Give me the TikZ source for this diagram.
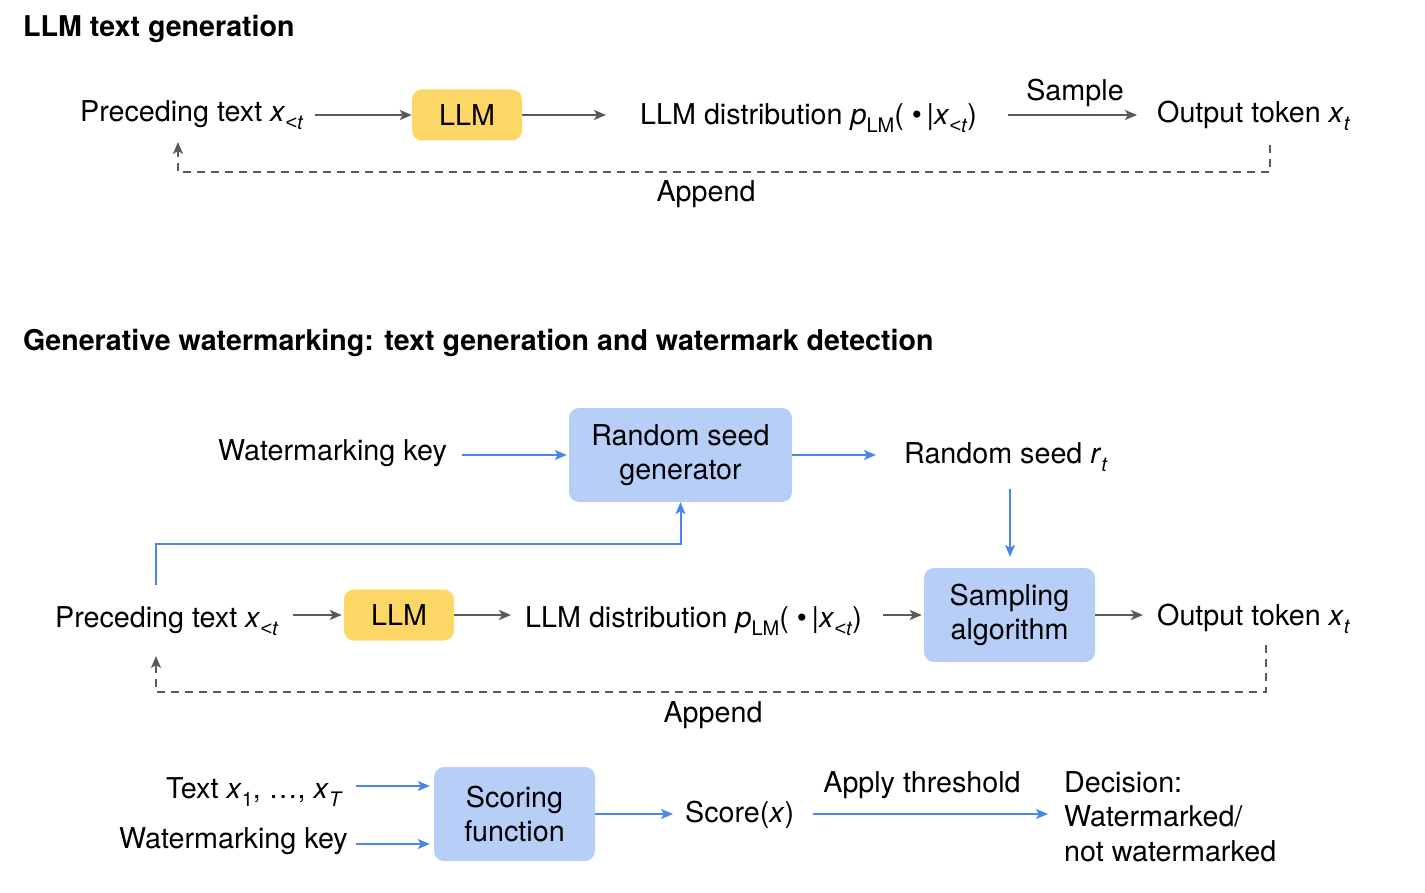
\documentclass[tikz,border=0pt]{standalone}
\usepackage{fontspec}
\setmainfont{TeX Gyre Heros}
\newfontfamily\lessfont{Liberation Sans}
\usetikzlibrary{arrows.meta,calc}
\definecolor{gline}{HTML}{5A5A5A}
\definecolor{bline}{HTML}{4A86E8}
\definecolor{bfill}{HTML}{B7CFF7}
\definecolor{yfill}{HTML}{FDD766}
\newcommand{\sbs}[1]{\raisebox{-8pt}{\fontsize{20}{20}\selectfont #1}}
\newcommand{\lt}{{\lessfont\itshape <}}
\begin{document}
\begin{tikzpicture}[x=1pt,y=-1pt,
  every node/.style={font=\fontsize{28.7}{34}\selectfont, inner sep=0pt, text=black},
  title/.style={font=\fontsize{28.6}{34}\selectfont\bfseries, anchor=base west},
  txt/.style={anchor=base west},
  box/.style={rounded corners=10pt, align=center},
  llmbox/.style={box, fill=yfill, minimum width=110pt, minimum height=51pt},
  bluebox/.style={box, fill=bfill, minimum height=94pt},
  garrow/.style={draw=gline, line width=2.2pt, -{Stealth[length=12pt,width=10pt,inset=3pt]}},
  barrow/.style={draw=bline, line width=2pt, -{Stealth[length=12pt,width=10pt,inset=3pt]}},
  gdash/.style={draw=gline, line width=1.8pt, dash pattern=on 8pt off 6pt, -{Stealth[length=12pt,width=10pt,inset=3pt]}},
  bline/.style={draw=bline, line width=2pt}
]
\useasboundingbox (0,0) rectangle (1425,893);

% ---------- Top section ----------
\node[title] (title1) at (23,37) {LLM text generation};
\node[txt] (prec1) at (80,122) {Preceding text \textit{x}\sbs{\lt\textit{t}}};
\node[llmbox] (llm1) at (467,115) {LLM};
\node[txt] (dist1) at (640,125) {LLM distribution \textit{p}\sbs{LM}( \textbullet\,|\textit{x}\sbs{\lt\textit{t}})};
\node[txt] (out1) at (1157,123) {Output token \textit{x}\sbs{\textit{t}}};
\node[anchor=base] (sample1) at (1075,101) {Sample};
\node[anchor=base] (append1) at (706,202) {Append};
\coordinate (d1s) at (1270,145);
\coordinate (d1e) at (178,142);

\draw[garrow, shorten <=11pt] (prec1.east |- llm1.west) -- (llm1.west);
\draw[garrow, shorten >=34pt] (llm1.east) -- (dist1.west |- llm1.east);
\draw[garrow, shorten <=31pt, shorten >=20pt] (dist1.east |- llm1.east) -- (out1.west |- llm1.east);
\draw[gdash] (d1s) -- ++(0,27) -| (d1e);

% ---------- Bottom section ----------
\node[title] (title2) at (23,351) {Generative watermarking: text generation and watermark detection};

\node[txt] (wkey1) at (218,460) {Watermarking key};
\node[bluebox, minimum width=223pt] (rsg) at (680.5,455) {Random seed\\generator};
\node[txt] (rseed) at (904,463) {Random seed \textit{r}\sbs{\textit{t}}};

\node[txt] (prec2) at (55,627) {Preceding text \textit{x}\sbs{\lt\textit{t}}};
\node[llmbox] (llm2) at (399,615) {LLM};
\node[txt] (dist2) at (525,627) {LLM distribution \textit{p}\sbs{LM}( \textbullet\,|\textit{x}\sbs{\lt\textit{t}})};
\node[bluebox, minimum width=171pt] (samp) at (1009.5,615) {Sampling\\algorithm};
\node[txt] (out2) at (1157,625) {Output token \textit{x}\sbs{\textit{t}}};
\node[anchor=base] (append2) at (713,722) {Append};

\coordinate (b1s) at (156,585);
\coordinate (d2s) at (1266,645);
\coordinate (d2e) at (156,656);
\coordinate (rsd) at (1010,489);

\draw[barrow, shorten <=15pt, shorten >=2pt] (wkey1.east |- rsg.west) -- (rsg.west);
\draw[barrow, shorten >=28pt] (rsg.east) -- (rseed.west |- rsg.east);
\draw[barrow, shorten >=11pt] (rsd) -- (rsd |- samp.north);
\draw[bline, -{Stealth[length=12pt,width=10pt,inset=3pt]}] (b1s) -- ++(0,-41) -| (rsg.south);

\draw[garrow, shorten <=14pt, shorten >=2pt] (prec2.east |- llm2.west) -- (llm2.west);
\draw[garrow, shorten >=14pt] (llm2.east) -- (dist2.west |- llm2.east);
\draw[garrow, shorten <=21pt, shorten >=2pt] (dist2.east |- samp.west) -- (samp.west);
\draw[garrow, shorten >=14pt] (samp.east) -- (out2.west |- samp.east);
\draw[gdash] (d2s) -- ++(0,47) -| (d2e);

% ---------- Detection ----------
\node[anchor=base east] (textx) at (343,798) {Text \textit{x}\sbs{1}, \dots, \textit{x}\sbs{\textit{T}}};
\node[anchor=base east] (wkey2) at (348,848) {Watermarking key};
\node[bluebox, minimum width=161pt] (scoref) at (514.5,814) {Scoring\\function};
\node[txt] (score) at (685,822) {Score(\textit{x})};
\node[anchor=base] (thr) at (922,792) {Apply threshold};
\node[anchor=north west, align=left, font=\fontsize{28.7}{34.5}\selectfont] (dec) at (1064,771) {Decision:\\Watermarked/\\not watermarked};

\coordinate (t1s) at (356,786);
\coordinate (t2s) at (356,844);
\draw[barrow, shorten >=4pt] (t1s) -- (t1s -| scoref.west);
\draw[barrow, shorten >=4pt] (t2s) -- (t2s -| scoref.west);
\draw[barrow, shorten >=12pt] (scoref.east) -- (score.west |- scoref.east);
\draw[barrow, shorten <=19pt, shorten >=16pt] (score.east |- scoref.east) -- (dec.west |- scoref.east);
\end{tikzpicture}
\end{document}
